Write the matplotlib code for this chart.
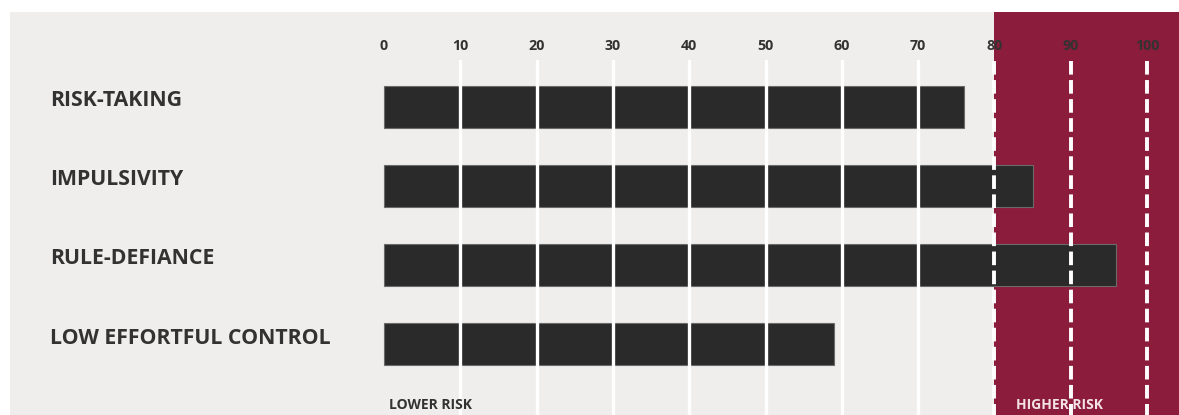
import matplotlib
matplotlib.use("Agg")
import matplotlib.pyplot as plt

categories = ["RISK-TAKING", "IMPULSIVITY", "RULE-DEFIANCE", "LOW EFFORTFUL CONTROL"]
scores = [76, 85, 96, 59]
ticks = [0, 10, 20, 30, 40, 50, 60, 70, 80, 90, 100]
threshold = 80

W, H = 1179, 415
fig = plt.figure(figsize=(W / 100, H / 100), dpi=100)
fig.patch.set_facecolor("white")

# axes covering grey panel: px x 10..1179, y 12..415
ax = fig.add_axes([10 / W, 0, 1 - 10 / W, (H - 12) / H])
ax.set_facecolor("#efeeec")
px_per_unit = (1147 - 384) / 100
ax.set_xlim((10 - 384) / px_per_unit, (1179 - 384) / px_per_unit)
sp = 79.0
ax.set_ylim((415 - 107) / sp, (12 - 107) / sp)
for s in ax.spines.values():
    s.set_visible(False)
ax.set_xticks([])
ax.set_yticks([])

font = ["Open Sans", "DejaVu Sans"]
txt = "#333232"

ax.axvspan(threshold, ax.get_xlim()[1], color="#8c1c3b", zorder=0, lw=0)

ypos = list(range(len(categories)))
ax.barh(ypos, scores, height=42 / sp, color="#2b2a2b", edgecolor="#6a6a6a",
        linewidth=0.8, zorder=2)

grid_top = (61 - 107) / sp
grid_bot = ax.get_ylim()[0]
for t in ticks:
    if t >= threshold:
        ax.plot([t, t], [grid_top, grid_bot], color="white", lw=2.8,
                dashes=(3.5, 1.4), zorder=3, solid_capstyle="butt")
    elif t > 0:
        ax.plot([t, t], [grid_top, grid_bot], color="white", lw=2.4, zorder=3)
    ax.text(t, (46 - 107) / sp, str(t), ha="center", va="center", fontsize=10.3,
            fontweight="bold", color=txt, family=font, zorder=4)

label_x = (50 - 384) / px_per_unit
for y, c in zip(ypos, categories):
    ax.text(label_x, y - 6 / sp, c, ha="left", va="center", fontsize=15.3,
            fontweight="bold", color=txt, family=font, zorder=4)

ax.text((389 - 384) / px_per_unit, (405 - 107) / sp, "LOWER RISK", ha="left",
        va="center", fontsize=10, fontweight="bold", color=txt, family=font, zorder=4)
ax.text((1016 - 384) / px_per_unit, (405 - 107) / sp, "HIGHER RISK", ha="left",
        va="center", fontsize=10, fontweight="bold", color="#f3e3e6", family=font, zorder=2.5)

fig.savefig("out.png", dpi=100, facecolor=fig.get_facecolor())
